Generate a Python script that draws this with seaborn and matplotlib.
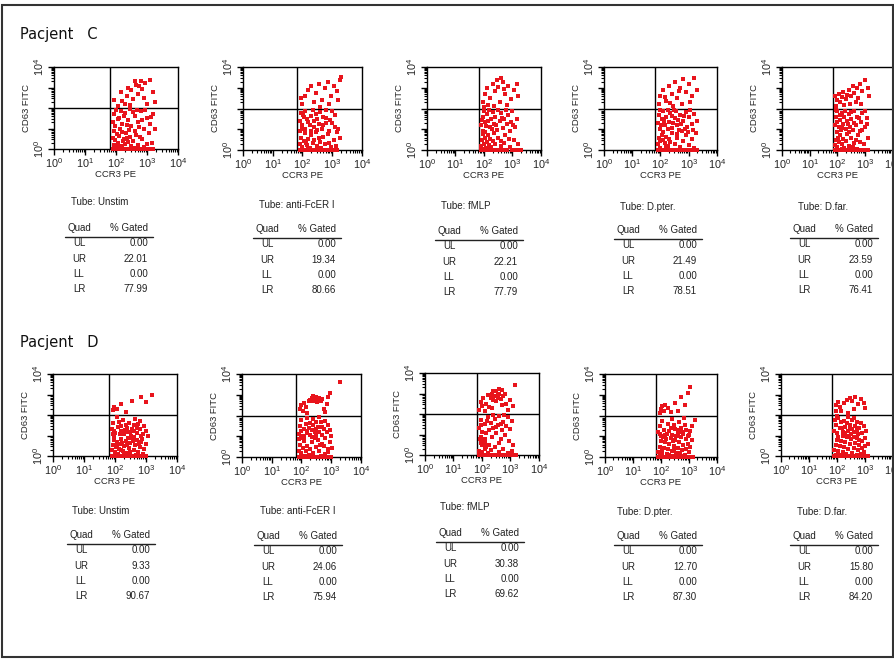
import matplotlib
matplotlib.use("Agg")
import matplotlib.pyplot as plt
from matplotlib.patches import Rectangle
from matplotlib.lines import Line2D
import matplotlib.ticker as mticker
import numpy as np
import pandas as pd
import seaborn as sns

# ---------------------------------------------------------------- data
tubes = ["Unstim", "anti-FcER I", "fMLP", "D.pter.", "D.far."]
quads = ["UL", "UR", "LL", "LR"]

gated_C_UL = [0.00, 0.00, 0.00, 0.00, 0.00]
gated_C_UR = [22.01, 19.34, 22.21, 21.49, 23.59]
gated_C_LL = [0.00, 0.00, 0.00, 0.00, 0.00]
gated_C_LR = [77.99, 80.66, 77.79, 78.51, 76.41]

gated_D_UL = [0.00, 0.00, 0.00, 0.00, 0.00]
gated_D_UR = [9.33, 24.06, 30.38, 12.70, 15.80]
gated_D_LL = [0.00, 0.00, 0.00, 0.00, 0.00]
gated_D_LR = [90.67, 75.94, 69.62, 87.30, 84.20]

# gate positions (log10 of channel value)
gate_x_log = 1.82
gate_y_log = 2.0

# events as (log10 CCR3 PE, log10 CD63 FITC)
C_unstim = [
    (2.05,2.1),(2.2,2.35),(2.35,2.6),(2.5,2.9),(2.65,3.1),(2.8,3.3),(2.95,3.2),(3.1,3.35),(2.4,3.0),(2.7,2.7),
    (2.9,2.5),(3.2,2.8),(2.15,2.8),(2.55,2.45),(2.85,2.95),(3.0,2.2),(2.3,2.2),(2.6,3.3),(3.25,2.3),(1.95,2.4),
    (2.45,2.15),(2.75,3.05),
    (1.9,0),(1.95,0),(2.0,0),(2.05,0),(2.1,0),(2.15,0),(2.2,0),(2.25,0),(2.3,0),(2.4,0),(2.5,0),(2.6,0),(2.7,0),
    (2.8,0),(2.9,0),(3.0,0),(3.1,0),(3.2,0),
    (1.92,0.2),(1.98,0.45),(2.05,0.3),(2.1,0.65),(2.18,0.15),(2.25,0.5),(2.32,0.8),(2.4,0.35),(2.02,0.75),
    (1.95,0.9),(2.12,1.0),(2.28,0.25),(2.45,0.6),(2.55,0.4),(2.6,0.9),(2.7,0.2),(2.2,0.85),(2.08,0.1),(1.9,0.55),
    (2.35,0.55),
    (1.9,1.3),(1.95,1.7),(2.0,1.9),(2.1,1.5),(2.2,1.2),(2.3,1.75),(2.4,1.4),(2.5,1.1),(2.6,1.6),(2.7,1.3),
    (2.8,1.85),(2.9,1.0),(3.0,1.5),(3.1,1.2),(3.2,1.7),(2.65,0.7),(2.85,0.5),(3.05,0.8),(3.15,0.3),(2.95,1.9),
    (2.45,1.95),(2.15,1.85),(2.75,1.05),(2.35,1.15),(2.55,1.8),(1.98,1.1),(2.05,1.45),(2.25,1.6),(2.85,1.4),
    (3.25,1.0),(3.0,0.25),(2.5,0.15),(1.93,0.05),(2.62,0.05),(2.9,0.1),(2.22,0.4),(2.42,0.95),(2.78,0.6),
    (3.12,1.55),(2.68,1.9),
]
C_antifcer = [
    (2.0,2.2),(2.1,2.6),(2.2,2.9),(2.3,3.1),(2.45,2.75),(2.55,3.2),(2.65,2.4),(2.75,3.0),(2.85,3.3),(2.95,2.6),
    (3.05,3.1),(3.15,2.85),(3.25,3.35),(3.3,3.5),(2.4,2.3),(2.6,2.05),(2.9,2.2),(1.95,2.5),(3.2,2.4),
    (1.9,0),(1.95,0),(2.0,0),(2.05,0),(2.1,0),(2.15,0),(2.2,0),(2.25,0),(2.3,0),(2.35,0),(2.45,0),(2.55,0),
    (2.65,0),(2.75,0),(2.85,0),(2.95,0),(3.05,0),(3.15,0),
    (1.9,0.3),(1.95,0.6),(2.0,0.15),(2.05,0.45),(2.1,0.8),(2.15,0.25),(2.2,0.55),(2.25,0.1),(2.3,0.7),
    (2.35,0.35),(2.4,0.5),(2.5,0.2),(2.6,0.4),(2.7,0.65),(1.92,0.9),(2.08,1.0),(2.18,0.05),(2.28,0.9),
    (2.45,0.85),(2.55,0.6),(1.97,0.05),(2.12,0.35),
    (1.9,1.4),(1.95,1.8),(2.0,1.2),(2.05,1.6),(2.1,1.9),(2.2,1.35),(2.3,1.65),(2.4,1.1),(2.5,1.5),(2.6,1.85),
    (2.7,1.2),(2.8,1.55),(2.9,0.9),(3.0,1.3),(3.1,1.7),(3.2,1.0),(2.65,1.0),(2.75,0.3),(2.85,0.75),(2.95,0.15),
    (3.05,0.5),(3.15,0.85),(2.35,1.95),(2.55,1.25),(2.45,1.75),(2.15,1.5),(1.98,1.0),(2.25,1.2),(2.8,1.95),
    (3.0,1.9),(2.7,1.6),(2.5,0.95),(2.62,0.1),(2.88,0.35),(3.12,0.2),(3.25,0.6),(2.38,1.4),(2.78,1.3),
    (2.02,1.7),(2.92,1.45),(3.08,1.1),
]
C_fmlp = [
    (1.95,2.3),(2.05,2.7),(2.1,3.0),(2.2,2.5),(2.3,3.2),(2.4,2.85),(2.5,3.05),(2.55,2.3),(2.65,3.3),(2.75,2.7),
    (2.85,3.1),(2.95,2.45),(3.05,2.9),(3.15,3.2),(2.6,3.45),(2.35,2.1),(2.15,2.15),(2.8,2.15),(3.2,2.6),
    (2.45,3.35),(2.0,2.05),(2.7,2.95),
    (1.9,0),(1.93,0),(1.96,0),(2.0,0),(2.03,0),(2.07,0),(2.1,0),(2.15,0),(2.2,0),(2.3,0),(2.4,0),(2.5,0),
    (2.6,0),(2.7,0),(2.8,0),(3.0,0),(3.1,0),(3.2,0),(3.3,0),
    (1.9,0.2),(1.93,0.5),(1.96,0.75),(2.0,0.3),(2.03,0.6),(2.07,0.1),(2.1,0.4),(2.13,0.7),(2.17,0.25),
    (2.2,0.55),(1.95,0.9),(2.05,0.85),(2.25,0.15),(2.3,0.45),(2.4,0.3),(2.5,0.6),(2.6,0.2),(1.98,0.05),
    (2.12,0.05),
    (1.9,1.2),(1.95,1.6),(2.0,1.9),(2.05,1.35),(2.1,1.75),(2.2,1.1),(2.25,1.5),(2.3,1.85),(2.35,1.25),
    (2.4,1.6),(2.45,0.95),(2.55,1.4),(2.6,1.8),(2.65,1.05),(2.7,1.5),(2.75,0.7),(2.8,1.25),(2.85,1.7),
    (2.9,0.9),(2.95,1.35),(3.0,1.9),(3.05,0.5),(3.1,1.1),(3.15,1.5),(2.5,1.95),(2.15,1.4),(2.35,0.8),
    (2.7,0.35),(2.9,0.15),(3.2,0.3),(1.92,1.45),(2.08,1.15),(2.62,1.55),(2.78,1.95),(2.42,1.2),(2.58,0.45),
    (2.18,1.95),(2.88,0.55),(3.02,1.2),(2.28,1.0),
]
C_dpter = [
    (1.95,2.2),(2.0,2.6),(2.1,2.9),(2.2,2.35),(2.3,3.1),(2.4,2.7),(2.5,3.3),(2.6,2.5),(2.7,3.0),(2.8,3.4),
    (2.9,2.8),(3.0,3.2),(3.1,2.6),(3.2,3.45),(3.3,2.9),(2.45,2.1),(2.75,2.2),(3.05,2.3),(2.15,2.55),
    (2.65,2.85),(2.35,2.25),
    (1.9,0),(1.95,0),(2.0,0),(2.05,0),(2.1,0),(2.2,0),(2.3,0),(2.4,0),(2.5,0),(2.6,0),(2.7,0),(2.8,0),
    (2.9,0),(3.0,0),(3.1,0),(3.2,0),(3.3,0),
    (1.9,0.3),(1.95,0.6),(2.0,0.45),(2.05,0.7),(2.1,0.5),(2.15,0.35),(2.2,0.65),(2.25,0.2),(2.3,0.55),
    (2.4,0.8),(2.5,0.3),(2.6,0.6),(2.7,0.15),(2.8,0.45),(2.9,0.7),(3.0,0.25),(3.1,0.55),(3.2,0.1),
    (2.08,0.85),(2.18,0.15),(2.35,0.4),(1.98,0.1),
    (1.9,1.3),(1.95,1.7),(2.0,1.0),(2.05,1.5),(2.1,1.9),(2.15,1.2),(2.2,1.6),(2.3,1.35),(2.35,1.8),
    (2.4,1.05),(2.5,1.55),(2.55,1.9),(2.6,1.2),(2.7,1.7),(2.75,0.9),(2.8,1.4),(2.9,1.85),(2.95,1.1),
    (3.0,1.6),(3.1,1.25),(3.2,1.75),(3.25,0.8),(2.45,1.3),(2.65,0.95),(2.85,1.0),(3.05,1.95),(2.25,1.0),
    (1.98,1.95),(2.12,1.4),(2.42,1.65),(2.62,1.45),(2.82,1.65),(3.15,0.95),(2.58,0.75),(2.28,1.95),
    (2.72,1.25),(2.98,0.85),(2.48,1.95),(2.02,1.2),(3.28,1.4),
]
C_dfar = [
    (1.95,2.1),(2.0,2.4),(2.05,2.7),(2.1,2.3),(2.15,2.55),(2.2,2.8),(2.3,2.45),(2.35,2.65),(2.4,2.9),
    (2.5,2.6),(2.55,3.1),(2.6,2.75),(2.7,3.0),(2.75,2.5),(2.8,3.2),(2.9,2.85),(3.0,3.35),(3.1,3.0),
    (3.15,2.6),(2.45,2.2),(2.25,2.15),(2.65,2.3),(2.85,2.2),(1.92,2.6),
    (1.9,0),(1.95,0),(2.0,0),(2.05,0),(2.1,0),(2.15,0),(2.2,0),(2.25,0),(2.3,0),(2.4,0),(2.5,0),(2.6,0),
    (2.7,0),(2.8,0),(2.9,0),(3.0,0),(3.1,0),
    (1.9,0.25),(1.95,0.5),(2.0,0.15),(2.05,0.4),(2.1,0.7),(2.15,0.3),(2.2,0.55),(2.25,0.1),(2.3,0.45),
    (2.4,0.2),(2.5,0.6),(2.6,0.35),(2.7,0.05),(2.8,0.4),(1.98,0.85),(2.12,0.95),(2.35,0.75),(2.55,0.15),
    (2.02,0.6),(2.18,0.05),
    (1.9,1.2),(1.95,1.6),(2.0,1.9),(2.05,1.1),(2.1,1.45),(2.15,1.8),(2.2,1.25),(2.25,1.6),(2.3,1.0),
    (2.35,1.4),(2.4,1.75),(2.45,1.1),(2.5,1.5),(2.6,1.9),(2.65,1.2),(2.7,1.6),(2.8,0.9),(2.85,1.35),
    (2.9,1.8),(3.0,1.1),(3.05,1.55),(3.1,0.6),(2.75,0.7),(2.95,0.3),(2.55,0.95),(1.93,1.95),(2.08,1.7),
    (2.28,1.9),(2.48,1.85),(2.68,0.5),(2.88,0.95),(3.0,1.9),(2.38,1.25),(2.58,1.3),(2.78,1.55),(2.18,1.05),
    (1.98,1.35),(3.08,1.25),(2.42,0.85),
]
D_unstim = [
    (1.92,2.25),(1.98,2.4),(2.05,2.3),(2.2,2.55),(2.35,2.15),(2.55,2.7),(2.85,2.9),(3.0,2.65),(3.2,3.0),
    (1.9,0),(1.95,0),(2.0,0),(2.05,0),(2.1,0),(2.15,0),(2.2,0),(2.25,0),(2.3,0),(2.35,0),(2.4,0),(2.5,0),
    (2.6,0),(2.7,0),(2.8,0),(2.9,0),(3.0,0),
    (1.9,0.3),(1.93,0.55),(1.96,0.8),(2.0,0.2),(2.03,0.45),(2.06,0.7),(2.1,0.1),(2.13,0.35),(2.16,0.6),
    (2.2,0.85),(2.25,0.25),(2.3,0.5),(2.35,0.75),(2.4,0.15),(2.45,0.4),(2.5,0.65),(2.55,0.9),(2.6,0.3),
    (2.65,0.55),(2.7,0.8),(2.75,0.2),(2.8,0.45),(2.85,0.7),(2.9,0.1),(2.95,0.35),(3.0,0.6),(1.98,0.95),
    (2.08,0.5),(2.18,0.3),(2.28,0.05),(2.38,0.55),(2.48,0.2),(2.58,0.75),(2.68,0.05),(2.78,0.6),(2.88,0.85),
    (2.42,0.9),(2.22,0.65),(2.02,0.05),(2.62,0.95),
    (1.9,1.3),(1.95,1.6),(2.0,1.1),(2.1,1.4),(2.2,1.2),(2.3,1.05),(2.4,1.35),(2.5,1.15),(2.6,1.5),(2.7,1.1),
    (2.8,1.3),(2.9,1.05),(3.0,1.2),(2.45,1.6),(2.25,1.75),(2.05,1.9),(2.65,1.8),(2.35,1.5),(2.15,1.05),
    (2.55,1.3),(2.75,1.55),(2.85,1.0),(1.97,1.2),(2.12,1.65),(2.32,1.25),(2.52,1.0),(2.72,1.35),(2.92,1.45),
    (2.18,1.45),(2.42,1.15),(3.05,1.0),(2.62,1.2),(2.82,1.7),(1.93,1.05),
]
D_antifcer = [
    (2.3,2.75),(2.35,2.85),(2.4,2.7),(2.45,2.8),(2.5,2.9),(2.55,2.75),(2.6,2.85),(2.65,2.7),(2.4,2.95),
    (2.52,2.65),(2.7,2.8),(1.95,2.3),(2.0,2.5),(2.05,2.2),(2.1,2.6),(2.15,2.4),(2.2,2.1),(2.75,2.3),
    (2.85,2.55),(2.9,2.9),(2.95,3.1),(2.8,2.15),(2.25,2.7),(3.3,3.6),
    (1.9,0),(1.95,0),(2.0,0),(2.05,0),(2.1,0),(2.2,0),(2.3,0),(2.4,0),(2.5,0),(2.6,0),(2.7,0),(2.8,0),
    (2.9,0),(3.0,0),
    (1.9,0.3),(1.95,0.6),(2.0,0.2),(2.05,0.45),(2.1,0.75),(2.15,0.3),(2.2,0.55),(2.25,0.1),(2.3,0.4),
    (2.35,0.7),(2.4,0.2),(2.5,0.5),(2.6,0.3),(2.7,0.65),(2.8,0.15),(2.9,0.4),(1.98,0.9),(2.12,0.05),
    (2.45,0.9),(2.65,0.05),
    (1.9,1.1),(1.95,1.5),(2.0,1.25),(2.05,1.0),(2.1,1.35),(2.15,1.6),(2.2,1.15),(2.25,1.4),(2.3,1.05),
    (2.35,1.3),(2.4,1.55),(2.45,1.2),(2.5,1.0),(2.55,1.45),(2.6,1.2),(2.65,1.7),(2.7,1.05),(2.75,1.35),
    (2.8,0.9),(2.85,1.2),(2.9,1.55),(2.95,0.7),(3.0,1.0),(2.0,1.8),(2.2,1.9),(2.4,1.85),(2.6,1.95),
    (2.8,1.75),(2.3,1.65),(2.5,1.7),(2.1,0.95),(2.35,0.95),(2.55,0.8),(2.75,0.55),(2.95,1.3),(1.93,0.85),
    (2.68,1.45),(2.48,1.35),(2.18,1.25),(2.88,0.25),(3.02,0.45),(2.62,0.6),
]
D_fmlp = [
    (2.3,2.8),(2.35,3.0),(2.4,2.7),(2.45,2.9),(2.5,3.1),(2.55,2.8),(2.6,3.0),(2.65,2.75),(2.7,3.15),
    (2.75,2.9),(2.5,2.65),(2.6,3.2),(2.4,3.1),(2.8,3.0),(2.55,2.95),(1.9,2.2),(1.95,2.6),(2.0,2.4),
    (2.05,2.8),(2.1,2.15),(2.15,2.5),(2.2,2.95),(2.25,2.35),(2.85,2.5),(2.9,2.2),(3.0,2.7),(3.1,2.4),
    (3.15,3.4),(2.35,2.3),(2.7,2.45),
    (1.9,0),(1.95,0),(2.0,0),(2.05,0),(2.1,0),(2.15,0),(2.2,0),(2.3,0),(2.4,0),(2.5,0),(2.6,0),(2.7,0),
    (2.8,0),(2.9,0),(3.0,0),(3.1,0),(3.2,0),
    (1.95,0.6),(2.0,0.75),(2.05,0.55),(2.1,0.8),(1.98,0.9),(2.03,0.65),(2.08,0.7),(1.92,0.8),(2.12,0.6),
    (2.0,0.5),
    (1.9,0.2),(2.0,0.15),(2.1,0.3),(2.2,0.1),(2.3,0.25),(2.45,0.4),(2.6,0.15),(2.75,0.3),(2.9,0.1),
    (3.05,0.2),(2.15,0.4),(2.25,0.5),
    (1.9,1.3),(1.95,1.7),(2.0,1.1),(2.1,1.5),(2.2,1.85),(2.25,1.2),(2.3,1.55),(2.35,0.9),(2.4,1.3),
    (2.45,1.75),(2.5,1.05),(2.55,1.45),(2.6,1.9),(2.65,0.8),(2.7,1.2),(2.75,1.6),(2.8,1.0),(2.85,1.4),
    (2.9,1.85),(2.95,0.7),(3.0,1.25),(3.05,1.65),(3.1,0.5),(2.15,1.05),(2.38,1.95),(2.58,0.6),(2.78,1.95),
    (2.48,1.35),(2.18,1.65),(2.68,1.5),(1.98,1.45),
]
D_dpter = [
    (1.95,2.1),(2.0,2.3),(2.05,2.45),(2.1,2.2),(2.15,2.5),(2.25,2.35),(2.35,2.15),(2.5,2.6),(2.7,2.9),
    (2.85,2.5),(2.95,3.1),(3.05,3.35),(2.6,2.2),
    (1.9,0),(1.95,0),(2.0,0),(2.05,0),(2.1,0),(2.15,0),(2.2,0),(2.25,0),(2.3,0),(2.35,0),(2.4,0),(2.5,0),
    (2.6,0),(2.7,0),(2.8,0),(2.9,0),(3.0,0),(3.1,0),(3.15,0),
    (1.9,0.25),(1.95,0.5),(2.0,0.75),(2.05,0.2),(2.1,0.45),(2.15,0.7),(2.2,0.15),(2.25,0.4),(2.3,0.65),
    (2.35,0.9),(2.4,0.3),(2.45,0.55),(2.5,0.8),(2.55,0.2),(2.6,0.45),(2.65,0.7),(2.7,0.95),(2.75,0.35),
    (2.8,0.6),(2.85,0.1),(2.9,0.4),(2.95,0.65),(3.0,0.25),(3.05,0.5),(3.1,0.8),(1.98,0.05),(2.18,0.85),
    (2.38,0.05),(2.58,1.0),(2.78,0.05),(2.08,0.95),(2.28,0.1),(2.48,0.35),(2.68,0.2),(2.88,0.85),(2.02,0.35),
    (2.42,0.75),(2.62,0.05),
    (1.9,1.2),(1.95,1.5),(2.0,1.0),(2.1,1.3),(2.2,1.1),(2.3,1.25),(2.4,1.05),(2.5,1.35),(2.6,1.15),(2.7,1.4),
    (2.8,1.1),(2.9,1.3),(3.0,1.05),(3.1,1.5),(3.2,1.8),(2.25,1.6),(2.45,1.55),(2.65,1.7),(2.85,1.55),
    (2.05,1.75),(2.35,1.4),(2.55,1.0),(2.75,1.2),(2.95,1.0),(2.15,1.05),(3.05,1.25),(2.4,1.85),(2.62,1.3),
    (1.97,1.1),(2.82,1.9),
]
D_dfar = [
    (1.95,2.2),(1.98,2.5),(2.05,2.65),(2.1,2.4),(2.15,2.2),(2.25,2.6),(2.35,2.75),(2.45,2.85),(2.55,2.7),
    (2.65,2.9),(2.75,2.55),(2.85,2.8),(2.95,2.6),(2.6,2.3),(2.4,2.1),(3.0,2.35),
    (1.9,0),(1.95,0),(2.0,0),(2.05,0),(2.1,0),(2.15,0),(2.2,0),(2.3,0),(2.4,0),(2.5,0),(2.6,0),(2.7,0),
    (2.8,0),(2.9,0),(3.0,0),(3.1,0),
    (1.9,0.3),(1.95,0.55),(2.0,0.8),(2.05,0.25),(2.1,0.5),(2.15,0.75),(2.2,0.2),(2.25,0.45),(2.3,0.7),
    (2.35,0.95),(2.4,0.35),(2.45,0.6),(2.5,0.85),(2.55,0.15),(2.6,0.4),(2.65,0.65),(2.7,0.9),(2.75,0.3),
    (2.8,0.55),(2.85,0.1),(2.9,0.4),(2.95,0.2),(3.0,0.5),(1.98,0.05),(2.12,0.05),(2.32,0.1),(2.52,0.05),
    (2.72,0.05),(2.42,1.0),(2.62,0.95),(2.22,1.0),(2.02,0.95),
    (1.9,1.2),(1.95,1.5),(2.0,1.1),(2.1,1.35),(2.2,1.15),(2.3,1.4),(2.4,1.2),(2.5,1.05),(2.55,1.3),
    (2.6,1.15),(2.65,1.45),(2.7,1.25),(2.75,1.05),(2.8,1.35),(2.9,1.1),(3.0,0.9),(2.35,1.6),(2.45,1.5),
    (2.25,1.7),(2.05,1.85),(2.15,1.65),(2.55,1.75),(2.85,1.6),(2.0,1.95),(2.4,1.9),(2.7,1.65),(3.05,1.2),
    (2.18,1.35),(2.48,1.3),(2.78,0.8),(1.93,1.75),(2.95,1.45),(2.62,1.85),(2.28,1.1),(3.1,0.6),(2.88,0.75),
]

events_C = [C_unstim, C_antifcer, C_fmlp, C_dpter, C_dfar]
events_D = [D_unstim, D_antifcer, D_fmlp, D_dpter, D_dfar]

# ---------------------------------------------------------------- style
sns.set_theme(style="white")
plt.rcParams["font.family"] = ["Liberation Sans", "DejaVu Sans"]
plt.rcParams["mathtext.fontset"] = "custom"
plt.rcParams["mathtext.rm"] = "Liberation Sans"
plt.rcParams["mathtext.it"] = "Liberation Sans"

W, H = 895, 661
DOT = "#e8141c"
fig = plt.figure(figsize=(W / 100, H / 100), dpi=100)
fig.patch.set_facecolor("white")


def fx(x):
    return x / W


def fy(y):
    return 1 - y / H


def add_axes_px(l, t, r, b):
    return fig.add_axes([fx(l), fy(b), (r - l) / W, (b - t) / H])


# pixel boxes (left, top, right, bottom) of the dot plots
boxes_C = [(54, 67, 178, 149), (243, 67, 362, 150), (427, 67, 541, 150),
           (604, 67, 717, 150), (782, 67, 893, 150)]
boxes_D = [(53, 374, 177, 456), (242, 374, 361, 457), (425, 373, 539, 455),
           (605, 374, 717, 457), (781, 374, 893, 456)]

# tube caption position, table header baseline and right edge of values
tube_C = [(71, 202), (259, 205), (441, 206), (620, 207), (798, 207)]
head_C = [228, 229, 231, 230, 229]
right_C = [148, 336, 518, 697, 873]
tube_D = [(72, 511), (260, 511), (440, 507), (617, 512), (797, 512)]
head_D = [535, 536, 533, 536, 536]
right_D = [150, 337, 519, 697, 873]

decade_fmt = mticker.FuncFormatter(lambda v, p: r"$10^{%d}$" % round(np.log10(v)))


def dot_plot(box, events):
    ax = add_axes_px(*box)
    df = pd.DataFrame(events, columns=["lx", "ly"])
    df["CCR3 PE"] = 10 ** df["lx"]
    df["CD63 FITC"] = 10 ** df["ly"]
    ax.set_xscale("log")
    ax.set_yscale("log")
    sns.scatterplot(data=df, x="CCR3 PE", y="CD63 FITC", ax=ax, color=DOT,
                    s=6.0, marker="s", linewidth=0, legend=False,
                    clip_on=False, zorder=3)
    ax.set_xlim(1, 1e4)
    ax.set_ylim(1, 1e4)
    ax.axvline(10 ** gate_x_log, color="black", lw=1.0, zorder=2)
    ax.axhline(10 ** gate_y_log, color="black", lw=1.0, zorder=2)
    for s in ax.spines.values():
        s.set_color("black")
        s.set_linewidth(1.0)
    majors = [1, 10, 100, 1000, 10000]
    ax.xaxis.set_major_locator(mticker.FixedLocator(majors))
    ax.xaxis.set_minor_locator(mticker.LogLocator(base=10, subs=np.arange(2, 10), numticks=20))
    ax.yaxis.set_major_locator(mticker.FixedLocator(majors))
    ax.yaxis.set_minor_locator(mticker.LogLocator(base=10, subs=np.arange(2, 10), numticks=20))
    ax.xaxis.set_major_formatter(decade_fmt)
    ax.xaxis.set_minor_formatter(mticker.NullFormatter())
    ax.yaxis.set_major_formatter(mticker.FuncFormatter(
        lambda v, p: r"$10^{%d}$" % round(np.log10(v)) if v in (1, 10000) else ""))
    ax.yaxis.set_minor_formatter(mticker.NullFormatter())
    ax.tick_params(which="major", direction="out", length=4, width=1.0,
                   color="black", labelsize=7.8, pad=1.5, bottom=True, left=True)
    ax.tick_params(which="minor", direction="out", length=2.4, width=0.8,
                   color="black", bottom=True, left=True)
    ax.tick_params(axis="y", labelrotation=90)
    for lab in ax.get_yticklabels():
        lab.set_va("center")
    ax.set_xlabel("CCR3 PE", fontsize=6.8, labelpad=0)
    ax.set_ylabel("CD63 FITC", fontsize=6.8, labelpad=1)
    ax.set_facecolor("white")
    return ax


def stats_table(tube, tpos, head_y, right, values):
    fs = 7.0
    fig.text(fx(tpos[0]), fy(tpos[1]), "Tube: " + tube, fontsize=fs,
             ha="left", va="center", color="#222222")
    qx = right - 69
    fig.text(fx(qx), fy(head_y), "Quad", fontsize=fs, ha="center", va="center", color="#222222")
    fig.text(fx(right), fy(head_y), "% Gated", fontsize=fs, ha="right", va="center", color="#222222")
    fig.add_artist(Line2D([fx(right - 83), fx(right + 5)], [fy(head_y + 9)] * 2,
                          color="#222222", lw=1.0, transform=fig.transFigure))
    for i, (q, v) in enumerate(zip(quads, values)):
        yy = head_y + 15.3 * (i + 1)
        fig.text(fx(qx), fy(yy), q, fontsize=fs, ha="center", va="center", color="#222222")
        fig.text(fx(right), fy(yy), "%.2f" % v, fontsize=fs, ha="right", va="center", color="#222222")


for i, tube in enumerate(tubes):
    dot_plot(boxes_C[i], events_C[i])
    stats_table(tube, tube_C[i], head_C[i], right_C[i],
                [gated_C_UL[i], gated_C_UR[i], gated_C_LL[i], gated_C_LR[i]])
    dot_plot(boxes_D[i], events_D[i])
    stats_table(tube, tube_D[i], head_D[i], right_D[i],
                [gated_D_UL[i], gated_D_UR[i], gated_D_LL[i], gated_D_LR[i]])

fig.text(fx(20), fy(35), "Pacjent   C", fontsize=10.5, family="DejaVu Sans",
         ha="left", va="center", color="#111111")
fig.text(fx(20), fy(343), "Pacjent   D", fontsize=10.5, family="DejaVu Sans",
         ha="left", va="center", color="#111111")

# outer frame
fig.add_artist(Rectangle((fx(2), fy(657)), (W - 4) / W, (657 - 5) / H,
                         transform=fig.transFigure, fill=False,
                         edgecolor="#333333", lw=1.5))

fig.savefig("out.png", dpi=100, facecolor="white")
